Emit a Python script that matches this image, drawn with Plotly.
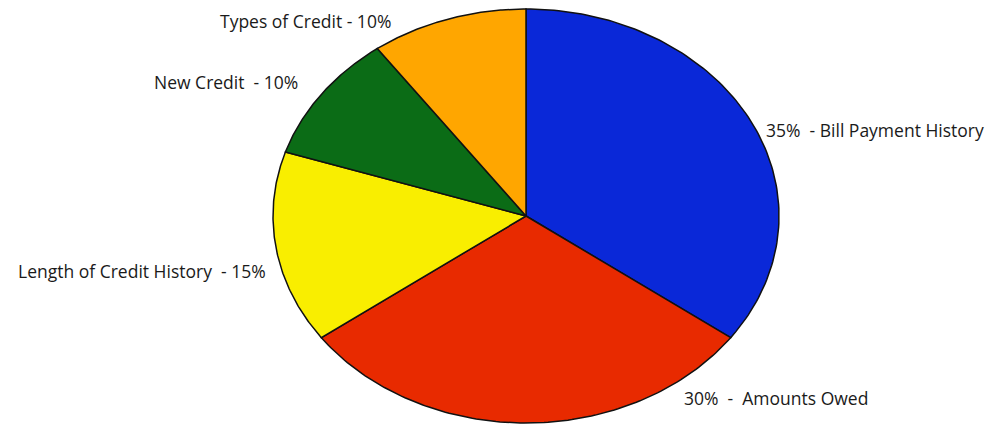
import numpy as np
import plotly.graph_objects as go

categories = ["Bill Payment History", "Amounts Owed", "Length of Credit History", "New Credit", "Types of Credit"]
values = [35, 30, 15, 10, 10]
colors = ["#0a28d8", "#e82a00", "#f9ee00", "#0b6c16", "#ffa600"]
label_texts = ["35%  - Bill Payment History", "30%  -  Amounts Owed",
               "Length of Credit History  - 15%", "New Credit  - 10%", "Types of Credit - 10%"]

# layout geometry (pixels)
W, H = 1006, 424
cx, cy = 526, 216
rx, ry = 253, 207

fig = go.Figure()
total = sum(values)
start = 0.0
for cat, v, col in zip(categories, values, colors):
    a0 = start / total * 2 * np.pi
    a1 = (start + v) / total * 2 * np.pi
    t = np.linspace(a0, a1, 120)
    xs = np.concatenate([[cx], cx + rx * np.sin(t), [cx]])
    ys = np.concatenate([[cy], cy - ry * np.cos(t), [cy]])
    fig.add_trace(go.Scatter(x=xs, y=ys, fill="toself", fillcolor=col, mode="lines",
                             line=dict(color="#111111", width=1.5), name=cat,
                             hoverinfo="name", showlegend=False))
    start += v

font = dict(family="Open Sans, Lato, sans-serif", size=17.5, color="#1a1a1a")
# label positions: (x, y, xanchor)
label_pos = [(764, 130, "left"), (682, 398, "left"), (268, 271, "right"),
             (300, 82, "right"), (393, 21, "right")]
for txt, (lx, ly, xa) in zip(label_texts, label_pos):
    fig.add_annotation(x=lx, y=ly, xref="x", yref="y", text=txt, showarrow=False,
                       xanchor=xa, yanchor="middle", font=font)

fig.update_layout(
    width=W, height=H, margin=dict(l=0, r=0, t=0, b=0),
    paper_bgcolor="white", plot_bgcolor="white",
    xaxis=dict(range=[0, W], visible=False, fixedrange=True),
    yaxis=dict(range=[H, 0], visible=False, fixedrange=True),
)
fig.write_html("out.html")
